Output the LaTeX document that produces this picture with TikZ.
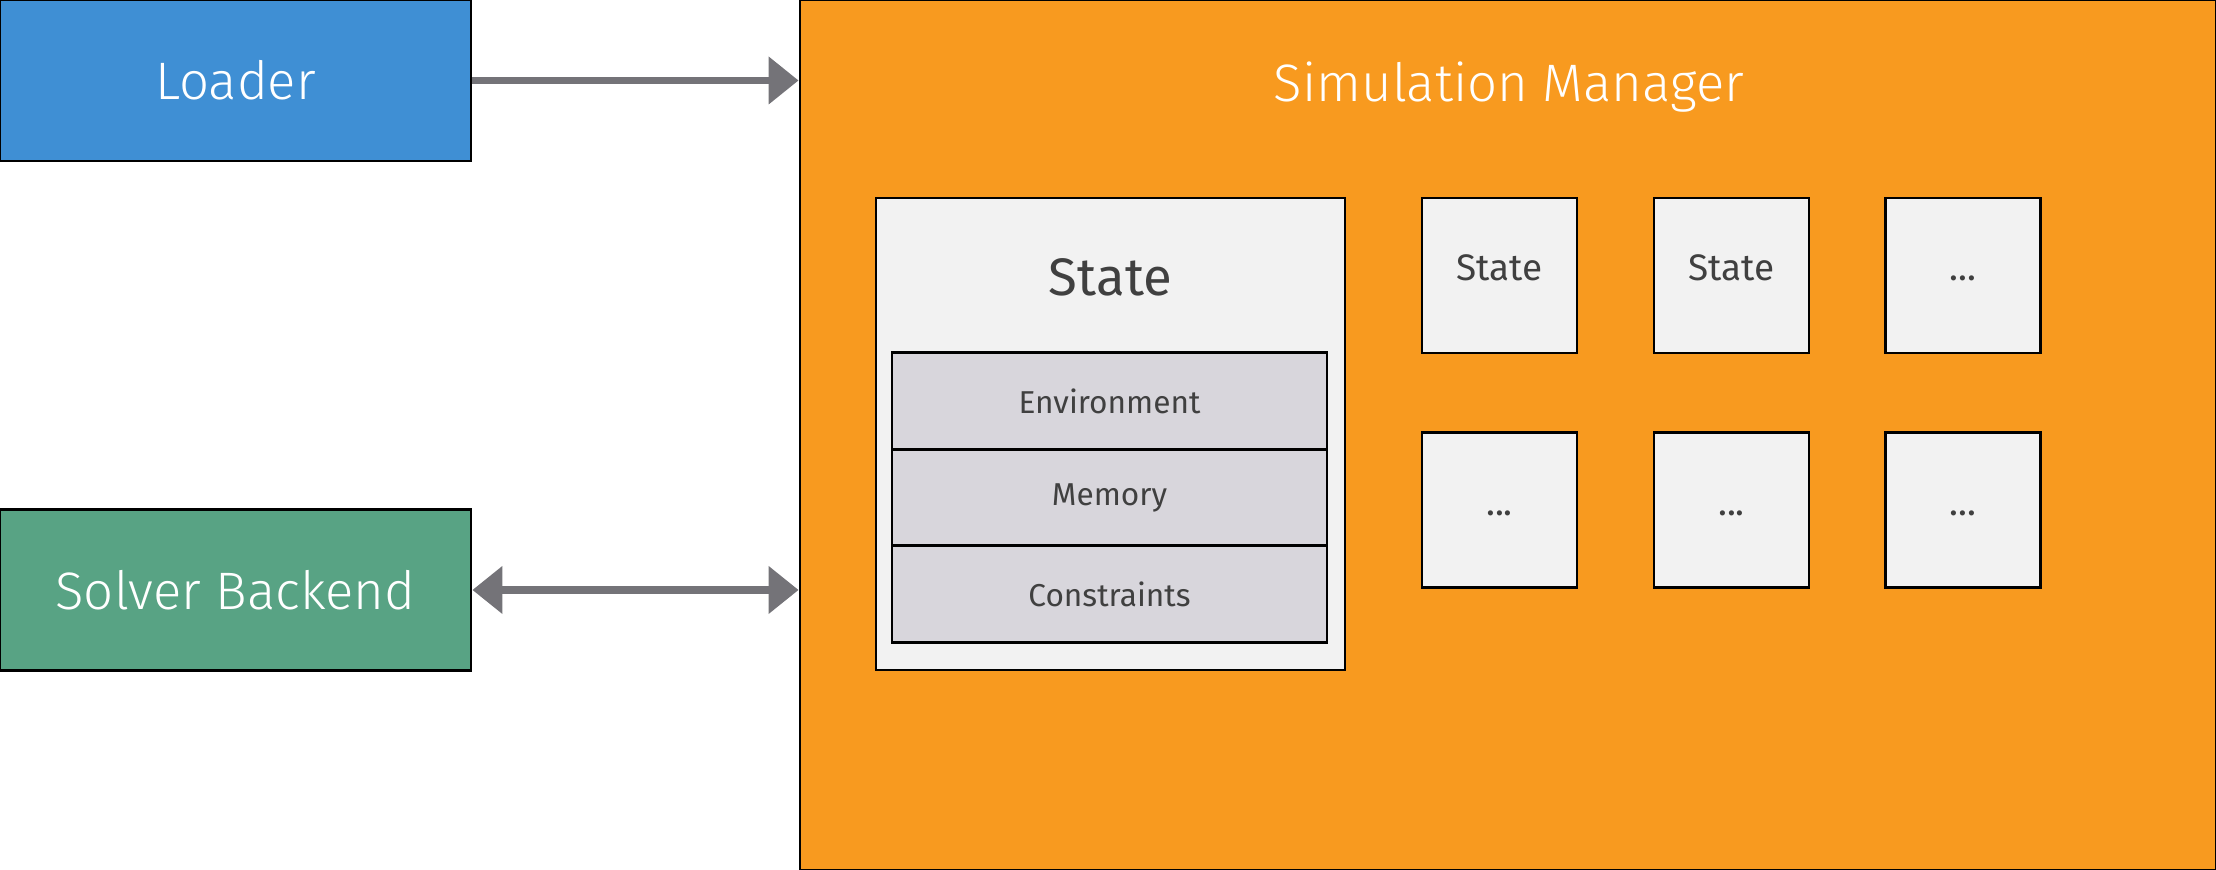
\documentclass[tikz,border=0pt]{standalone}
\usepackage{fontspec}
\setmainfont{Fira Sans}
\newfontfamily\lightfont{Fira Sans Light}
\usetikzlibrary{arrows.meta}
\definecolor{loaderblue}{HTML}{3F8FD4}
\definecolor{solvergreen}{HTML}{58A384}
\definecolor{managerorange}{HTML}{F89A1F}
\definecolor{stategray}{HTML}{F2F2F2}
\definecolor{rowgray}{HTML}{D8D6DC}
\definecolor{arrowgray}{HTML}{747378}
\definecolor{textgray}{HTML}{404040}
\newcommand{\moredots}{...}
\tikzset{
  block/.style={draw=black,line width=0.8pt,minimum width=4.71cm,minimum height=1.61cm,text=white,font=\lightfont\fontsize{15}{18}\selectfont},
  statebox/.style={draw=black,line width=0.8pt,fill=stategray,text=textgray},
  rowbox/.style={draw=black,line width=0.8pt,fill=rowgray,text=textgray,minimum width=4.35cm,minimum height=0.965cm,font=\fontsize{9}{11}\selectfont},
  link/.style={arrowgray,line width=2.2pt,-{Triangle[length=0.3cm,width=0.46cm]}}
}
\begin{document}
\begin{tikzpicture}
  \useasboundingbox (0,0) rectangle (22.16,8.70);
  \node[block,fill=loaderblue] (loader) at (2.355,7.895) {Loader};
  \node[block,fill=solvergreen] (solver) at (2.355,2.80) {Solver Backend};
  \node[draw=black,line width=0.8pt,fill=managerorange,minimum width=14.16cm,minimum height=8.70cm] (manager) at (15.08,4.35) {};
  \node[text=white,font=\lightfont\fontsize{15}{18}\selectfont] (managertitle) at (15.09,7.83) {Simulation Manager};
  % the state in detail
  \node[statebox,minimum width=4.69cm,minimum height=4.72cm] (state) at (11.105,4.36) {};
  \node[text=textgray,font=\fontsize{15}{18}\selectfont] (statetitle) at (11.105,5.93) {State};
  \node[rowbox] (environment) at (11.095,4.69) {Environment};
  \node[rowbox] (memory) at (11.095,3.725) {Memory};
  \node[rowbox] (constraints) at (11.095,2.76) {Constraints};
  % the other states
  \foreach \name/\x/\y/\txt in {s1/14.995/5.945/State, s2/17.315/5.945/State, s3/19.63/5.945/\moredots, s4/14.995/3.60/\moredots, s5/17.315/3.60/\moredots, s6/19.63/3.60/\moredots}
    \node[statebox,minimum width=1.55cm,minimum height=1.55cm,text height=0.28cm,text depth=0.17cm,font=\fontsize{10.5}{13}\selectfont] (\name) at (\x,\y) {\txt};
  \draw[link] (loader.east) -- (loader.east -| manager.west);
  \draw[link,{Triangle[length=0.3cm,width=0.46cm]}-{Triangle[length=0.3cm,width=0.46cm]}] (solver.east) -- (solver.east -| manager.west);
\end{tikzpicture}
\end{document}
